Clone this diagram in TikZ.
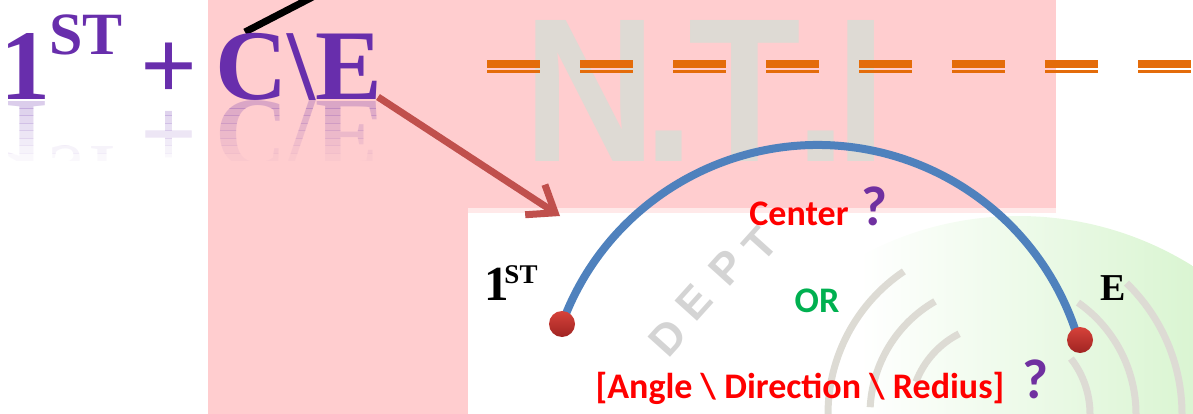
\documentclass[tikz,border=0pt]{standalone}
\usepackage{fontspec}
\setmainfont{Liberation Serif}
\newfontfamily\calfont{Carlito}
\newfontfamily\wmfont{Liberation Sans}
\usetikzlibrary{arrows.meta}
\definecolor{pinkbg}{RGB}{255,205,207}
\definecolor{purp}{RGB}{104,46,172}
\definecolor{qpurp}{RGB}{112,48,160}
\definecolor{orng}{RGB}{228,108,10}
\definecolor{arrred}{RGB}{192,80,77}
\definecolor{arcblue}{RGB}{79,129,189}
\definecolor{wmgrey}{RGB}{222,218,212}
\definecolor{wmsmallc}{RGB}{212,212,212}
\definecolor{ringgrey}{RGB}{221,219,212}
\definecolor{dottop}{RGB}{214,66,58}
\definecolor{dotbot}{RGB}{160,36,34}
\definecolor{grn}{RGB}{0,176,80}
\definecolor{glow}{RGB}{218,245,210}
\begin{document}
\begin{tikzpicture}[x=1pt,y=-1pt,
  bigtxt/.style={font=\fontsize{100}{100}\selectfont\bfseries, text=purp, inner sep=0pt, anchor=base},
  suptxt/.style={font=\fontsize{60}{60}\selectfont\bfseries, text=purp, inner sep=0pt, anchor=base},
  lbl/.style={font=\calfont\bfseries\fontsize{36}{36}\selectfont, inner sep=0pt, anchor=base},
  qmark/.style={font=\calfont\bfseries\fontsize{56}{56}\selectfont, text=qpurp, inner sep=0pt, anchor=base},
  ptlbl/.style={inner sep=0pt, anchor=base, text=black},
  wm/.style={font=\wmfont\bfseries\fontsize{205}{205}\selectfont, text=wmgrey, inner sep=0pt, anchor=base, xscale=0.9, text depth=0pt},
  wmsmall/.style={font=\wmfont\bfseries\fontsize{44}{44}\selectfont, text=wmsmallc, inner sep=0pt, rotate=48, text depth=0pt, text height=30pt},
  ring/.style={draw=ringgrey, line width=7pt},
  dotball/.style={circle, minimum size=26pt, inner sep=0pt, top color=dottop, bottom color=dotbot, draw=none},
]
\useasboundingbox (0,0) rectangle (1193,414);
\clip (0,0) rectangle (1193,414);
% backgrounds
\fill[pinkbg] (208,0) rectangle (1056,208);
\fill[pinkbg] (208,208) rectangle (468,414);
\fill[pinkbg!45] (468,208) rectangle (1056,213);
\begin{scope}
  \clip (468,213) rectangle (1193,414);
  \begin{scope}
    \clip (1018,546) circle[radius=330];
    \shade[left color=white, right color=glow] (860,213) rectangle (1193,414);
  \end{scope}
  % concentric grey rings (watermark)
  \draw[ring] (1000,414) ++(201:90) arc[start angle=201, end angle=243, radius=90];
  \draw[ring] (1000,414) ++(183:130) arc[start angle=183, end angle=240, radius=130];
  \draw[ring] (1000,414) ++(180:172) arc[start angle=180, end angle=236, radius=172];
  \draw[ring] (1000,414) ++(322:90) arc[start angle=322, end angle=360, radius=90];
  \draw[ring] (1000,414) ++(305:136) arc[start angle=305, end angle=360, radius=136];
  \draw[ring] (1000,414) ++(314:182) arc[start angle=314, end angle=360, radius=182];
\end{scope}
% N.T.I watermark
\node[wm] (wN) at (590,162) {N};
\node[wm] (wd1) at (669,162) {.};
\node[wm] (wT) at (745,162) {T};
\node[wm] (wd2) at (821,162) {.};
\node[wm] (wI) at (861,162) {I};
% DEPT watermark
\node[wmsmall] (dD) at (668,338) {D};
\node[wmsmall] (dE) at (694,303) {E};
\node[wmsmall] (dP) at (727,268) {P};
\node[wmsmall] (dT) at (760,244) {T};
% orange dashed double line
\coordinate (dashA) at (487,64);
\coordinate (dashB) at (1200,64);
\coordinate (dashC) at (487,71.5);
\coordinate (dashD) at (1200,71.5);
\draw[orng, line width=8pt, dash pattern=on 53pt off 40pt] (dashA) -- (dashB);
\draw[orng, line width=3pt, dash pattern=on 53pt off 40pt] (dashC) -- (dashD);
% black line at top
\coordinate (blA) at (245,32);
\coordinate (blB) at (330,-12);
\draw[black, line width=7pt] (blA) -- (blB);
% big title text
\node[bigtxt] (one) at (25,100) {1};
\node[suptxt] (st) at (86,55) {ST};
\node[bigtxt] (plus) at (169,100) {+};
\node[bigtxt] (ce) at (299,100) {C\textbackslash E};
% reflection of title
\foreach \i in {0,...,7} {
  \pgfmathsetmacro\op{0.24*(1-\i/8)}
  \begin{scope}
    \clip (0,{101+7.5*\i}) rectangle (470,{108.5+7.5*\i});
    \begin{scope}[opacity=\op, shift={(0,202)}, yscale=-1, transform shape]
      \node[bigtxt] (rone\i) at (25,100) {1};
      \node[suptxt] (rst\i) at (86,55) {ST};
      \node[bigtxt] (rplus\i) at (169,100) {+};
      \node[bigtxt] (rce\i) at (299,100) {C\textbackslash E};
    \end{scope}
  \end{scope}
}
% arrow
\coordinate (arrS) at (378,97);
\coordinate (arrT) at (560,216);
\draw[arrred, line width=7pt, -{Straight Barb[length=24pt,width=36pt]}] (arrS) -- (arrT);
% arc and dots
\coordinate (pL) at (562,324);
\coordinate (pR) at (1080,340);
\draw[arcblue, line width=8pt] (pL) arc[start angle=200, end angle=343, radius=272];
\node[dotball] (dotL) at (pL) {};
\node[dotball] (dotR) at (pR) {};
% labels
\node[ptlbl, font=\bfseries\fontsize{49}{49}\selectfont] (l1) at (497,300) {1};
\node[ptlbl, font=\bfseries\fontsize{27}{27}\selectfont] (lst) at (521,283) {ST};
\node[ptlbl, font=\bfseries\fontsize{38}{38}\selectfont] (lE) at (1113,300) {E};
\node[lbl, text=red] (center) at (799,225) {Center};
\node[qmark] (q1) at (874,225) {?};
\node[lbl, text=grn] (or) at (817,312) {OR};
\node[lbl, text=red] (adr) at (800,398) {[Angle \textbackslash{} Direction \textbackslash{} Redius]};
\node[qmark] (q2) at (1035,398) {?};
\end{tikzpicture}
\end{document}
